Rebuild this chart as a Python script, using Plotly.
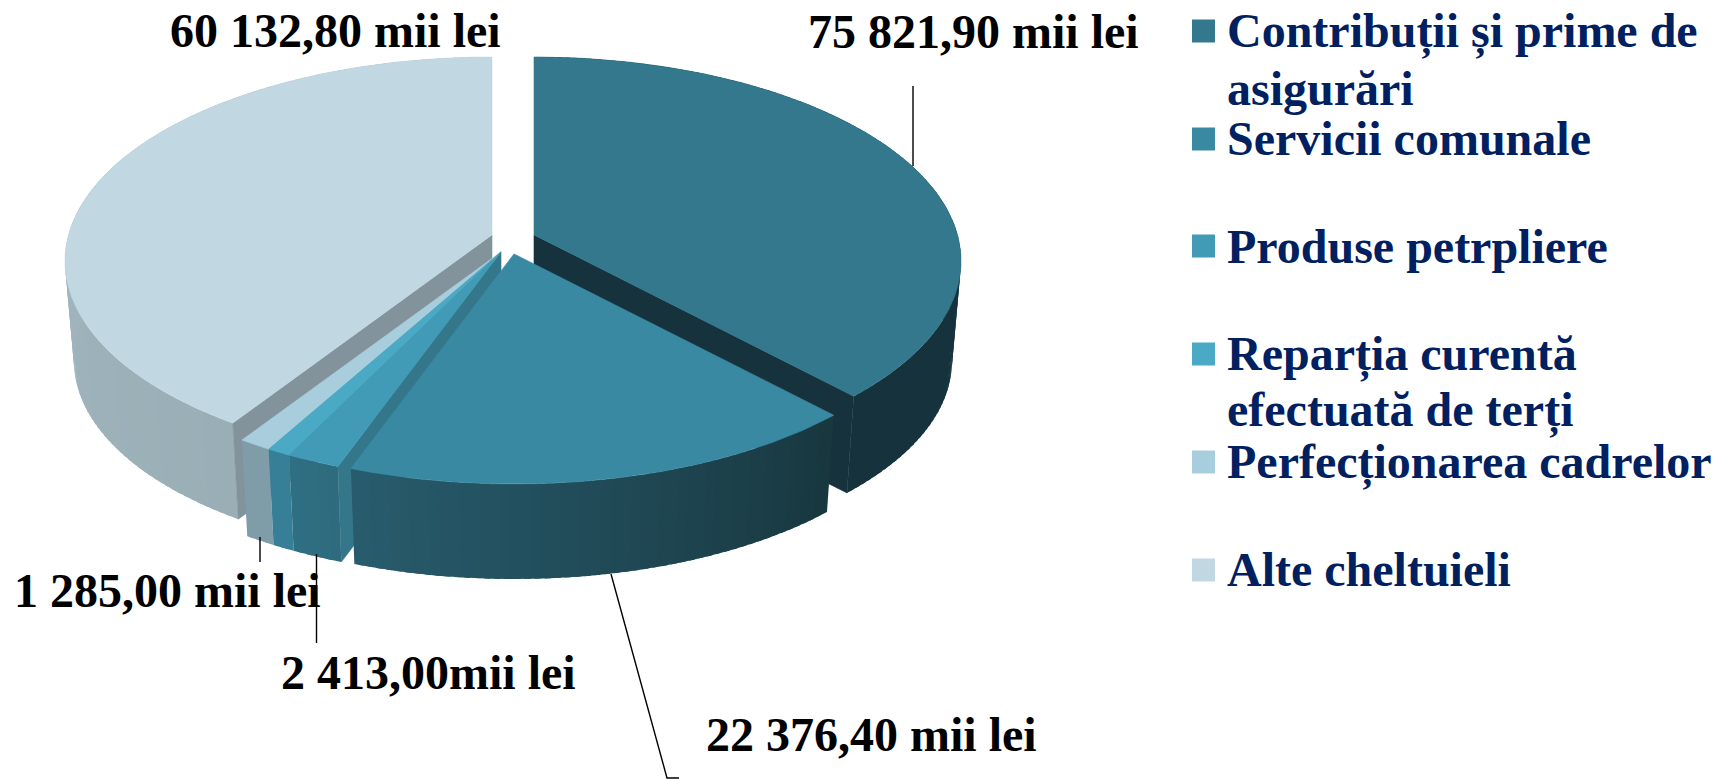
import math
import plotly.graph_objects as go

# ---- chart data -------------------------------------------------------
categories = ["Contribuții și prime de asigurări", "Servicii comunale", "Produse petrpliere",
              "Reparția curentă efectuată de terți", "Perfecționarea cadrelor", "Alte cheltuieli"]
# slice sizes as drawn in the picture (percent of the circle)
slice_shares = [38.0, 17.5, 1.8, 0.8, 1.1, 40.8]
# value labels as printed
label_texts = ["75 821,90 mii lei", "22 376,40 mii lei", "2 413,00mii lei", "1 285,00 mii lei", "60 132,80 mii lei"]
legend_lines = [["Contribuții și prime de", "asigurări"], ["Servicii comunale"], ["Produse petrpliere"],
                ["Reparția curentă", "efectuată de terți"], ["Perfecționarea cadrelor"], ["Alte cheltuieli"]]

# ---- styles -----------------------------------------------------------
top_colors = ["#33788C", "#3A89A3", "#429BB6", "#4AA9C5", "#A8CDDC", "#C1D8E3"]
# wall colour at the start and at the end of each slice (clockwise)
wall_colors = [("#16333D", "#16333D"), ("#18373F", "#285C6D"), ("#2F6B7E", "#2F6F84"),
               ("#367F97", "#367F97"), ("#7F9CA9", "#7F9CA9"), ("#9AAEB6", "#AABEC8")]
face_colors = {0: "#16333D", 2: "#35778A", 5: "#82939B"}   # visible cut faces
NAVY = "#002060"
FONT = "Liberation Serif"

# ---- projection of the tilted disc onto the page ----------------------
RX, RY = 427, 204          # top ellipse
RXB, RYB = 418, 199        # bottom ellipse
DEPTH = 100
A = -0.128                 # perspective shift of the disc centre
centers = [(534, 261), (514, 280), (501, 278), (501, 278), (501, 278), (492, 261)]


def uv(theta):
    su, sv = math.sin(theta), -math.cos(theta)
    den = 1 + A * sv
    return su * math.sqrt(1 - A * A) / den, (sv + A) / den


def top_pt(c, theta=None):
    u, v = (0, A) if theta is None else uv(theta)
    return c[0] + RX * u, c[1] + RY * v


def bot_pt(c, theta=None):
    u, v = (0, A) if theta is None else uv(theta)
    return c[0] + RXB * u, c[1] + DEPTH + RYB * v


def hex2rgb(h):
    return [int(h[i:i + 2], 16) for i in (1, 3, 5)]


def mix(a, b, t):
    ca, cb = hex2rgb(a), hex2rgb(b)
    return "rgb(%d,%d,%d)" % tuple(round(x + (y - x) * t) for x, y in zip(ca, cb))


fig = go.Figure()


def poly(pts, color, lw=0.6):
    fig.add_trace(go.Scatter(x=[p[0] for p in pts] + [pts[0][0]], y=[p[1] for p in pts] + [pts[0][1]],
                             mode="lines", fill="toself", fillcolor=color,
                             line=dict(color=color, width=lw), hoverinfo="skip", showlegend=False))


# cumulative angles computed from the shares
total = sum(slice_shares)
edges = [0.0]
for s in slice_shares:
    edges.append(edges[-1] + s / total * 2 * math.pi)

# which edge of each slice carries the visible cut face
face_edge = {0: 1, 2: 0, 5: 0}


def draw_slice(i):
    c = centers[i]
    t0, t1 = edges[i], edges[i + 1]
    # outer wall, as overlapping strips so that the silhouette and gradient stay smooth
    n = max(4, int((t1 - t0) / math.radians(1.2)))
    for k in range(n):
        a = t0 + (t1 - t0) * k / n
        b = min(t1, t0 + (t1 - t0) * (k + 1.6) / n)
        ts = [a + (b - a) * j / 3 for j in range(4)]
        pts = [top_pt(c, t) for t in ts] + [bot_pt(c, t) for t in reversed(ts)]
        poly(pts, mix(wall_colors[i][0], wall_colors[i][1], (k + .5) / n), lw=0)
    # visible cut face
    if i in face_colors:
        th = edges[i + face_edge[i]]
        poly([top_pt(c), top_pt(c, th), bot_pt(c, th), bot_pt(c)], face_colors[i])
    # top face
    m = max(8, int((t1 - t0) / math.radians(1)))
    rim = [top_pt(c, t0 + (t1 - t0) * j / m) for j in range(m + 1)]
    poly([top_pt(c)] + rim, top_colors[i])


for i in [5, 0, 4, 3, 2, 1]:
    draw_slice(i)

# ---- leader lines -----------------------------------------------------
leaders = [[(913, 86), (913, 166)], [(611, 574), (667, 778), (679, 778)],
           [(260, 537), (260, 562)], [(316.5, 554), (316.5, 643)]]
for ln in leaders:
    fig.add_trace(go.Scatter(x=[p[0] for p in ln], y=[p[1] for p in ln], mode="lines",
                             line=dict(color="black", width=1.4), hoverinfo="skip", showlegend=False))

# ---- legend swatches --------------------------------------------------
sw_y = [31, 139, 246, 354, 462, 570]
fig.add_trace(go.Scatter(x=[1203.5] * 6, y=sw_y, mode="markers",
                         marker=dict(symbol="square", size=23, color=top_colors, line=dict(width=0)),
                         hoverinfo="skip", showlegend=False))

annotations = []


def text(x, baseline, s, size, color, anchor="left"):
    annotations.append(dict(x=x, y=baseline + 0.216 * size + 1, xref="x", yref="y", text=s, showarrow=False,
                            xanchor=anchor, yanchor="bottom", align="left", borderpad=0,
                            font=dict(family=FONT, size=size, color=color, weight="bold")))


legend_base = [[49, 105], [155], [263], [372, 428], [480], [586]]
for lines, bases in zip(legend_lines, legend_base):
    for s, b in zip(lines, bases):
        text(1226, b, s, 48, NAVY)

label_pos = [(807, 48), (705, 751), (280, 689), (13, 607), (169, 47)]
for s, (x, b) in zip(label_texts, label_pos):
    text(x, b, s, 48, "black")

fig.update_layout(
    width=1717, height=779, margin=dict(l=0, r=0, t=0, b=0),
    paper_bgcolor="white", plot_bgcolor="white", showlegend=False, annotations=annotations,
    xaxis=dict(range=[0, 1717], visible=False, fixedrange=True),
    yaxis=dict(range=[779, 0], visible=False, fixedrange=True),
)
fig.write_html("out.html", config={"displayModeBar": False},
               post_script="document.body.style.margin='0';document.body.style.overflow='hidden';")
